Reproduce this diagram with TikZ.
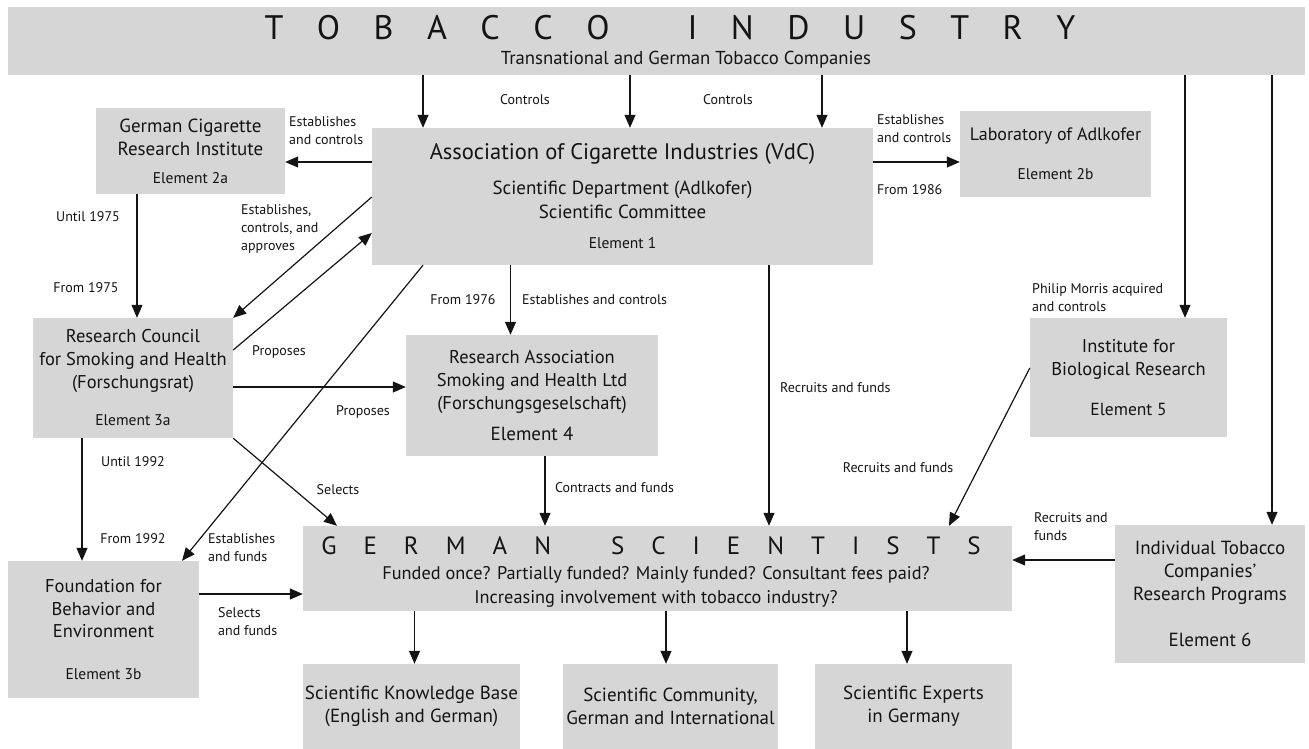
\documentclass[tikz,border=0pt]{standalone}
\usepackage{fontspec}
\setmainfont{PT Sans}
\usetikzlibrary{arrows.meta,calc}
\definecolor{boxgray}{RGB}{214,214,214}
\definecolor{ink}{RGB}{20,20,20}
\newcommand\fz[2]{\fontsize{#1}{#2}\selectfont}
\newcommand\tkA{\hspace{33.5pt}}
\newcommand\tkB{\hspace{27pt}}
\begin{document}
\begin{tikzpicture}[x=1pt,y=-1pt,
  box/.style={fill=boxgray, draw=none, inner sep=0pt, align=center, text=ink},
  lab/.style={inner sep=0pt, font=\fz{14}{18}, text=ink},
  arr/.style={draw=ink, line width=1.2pt, -{Triangle[length=13pt,width=11pt]}},
]
\useasboundingbox (0,0) rectangle (1309,749);

% ---------- boxes ----------
\node[box, minimum width=1297, minimum height=68] (bar) at (656.5,41) {};
\node[inner sep=0pt, anchor=base, font=\fz{34}{40}, text=ink] (title) at (670,40)
  {T\tkA O\tkA B\tkA A\tkA C\tkA C\tkA O\hspace{78pt}I\tkA N\tkA D\tkA U\tkA S\tkA T\tkA R\tkA Y};
\node[inner sep=0pt, anchor=base, font=\fz{18.7}{22}, text=ink] (sub) at (686,65)
  {Transnational and German Tobacco Companies};

\node[box, minimum width=189, minimum height=86, font=\fz{19}{23}] (gcri) at (190.5,151)
  {German Cigarette\\Research Institute\\[5pt]{\fz{15.5}{23}Element 2a}};
\node[box, minimum width=501, minimum height=137, font=\fz{19}{24}] (vdc) at (622.5,196.5)
  {{\fz{22.5}{24}Association of Cigarette Industries (VdC)\hspace{16pt}}\\[11pt]Scientific Department (Adlkofer)\\Scientific Committee\\[6pt]{\fz{15.5}{24}Element 1}};
\node[box, minimum width=191, minimum height=86, font=\fz{18}{23}] (lab) at (1055.5,154)
  {Laboratory of Adlkofer\\[16pt]{\fz{15.5}{23}Element 2b}};
\node[box, minimum width=200, minimum height=120, font=\fz{18.5}{23}] (rc) at (133,378)
  {Research Council\\for Smoking and Health\\(Forschungsrat)\\[14pt]{\fz{15.5}{23}Element 3a}};
\node[box, minimum width=252, minimum height=121, font=\fz{18.5}{23}] (ra) at (532,395.5)
  {Research Association\\Smoking and Health Ltd\\(Forschungsgeselschaft)\\[8pt]{\fz{19}{23}Element 4}};
\node[box, minimum width=197, minimum height=119, font=\fz{18.5}{23}] (ibr) at (1128.5,377.5)
  {Institute for\\Biological Research\\[17pt]{\fz{17.5}{23}Element 5}};
\node[box, minimum width=191, minimum height=137, font=\fz{18.5}{22.5}] (fnd) at (103.5,629.5)
  {Foundation for\\Behavior and\\Environment\\[19pt]{\fz{15.5}{22.5}Element 3b}};
\node[box, minimum width=709, minimum height=85] (gs) at (657.5,568.5) {};
\node[inner sep=0pt, anchor=base, font=\fz{25}{30}, text=ink] (gstitle) at (651,554)
  {G\tkB E\tkB R\tkB M\tkB A\tkB N\hspace{60pt}S\tkB C\tkB I\tkB E\tkB N\tkB T\tkB I\tkB S\tkB T\tkB S};
\node[inner sep=0pt, anchor=base, font=\fz{18.3}{22}, text=ink] (gs1) at (656,579)
  {Funded once? Partially funded? Mainly funded? Consultant fees paid?};
\node[inner sep=0pt, anchor=base, font=\fz{18.3}{22}, text=ink] (gs2) at (656,603)
  {Increasing involvement with tobacco industry?};
\node[box, minimum width=190, minimum height=138, font=\fz{19}{23}] (ind) at (1210,594)
  {Individual Tobacco\\Companies’\\Research Programs\\[23pt]Element 6};
\node[box, minimum width=217, minimum height=85, font=\fz{19}{23}] (kb) at (411.5,706.5)
  {Scientific Knowledge Base\\(English and German)};
\node[box, minimum width=215, minimum height=85, font=\fz{19}{23}] (sc) at (670.5,706.5)
  {Scientific Community,\\German and International};
\node[box, minimum width=197, minimum height=85, font=\fz{19}{23}] (se) at (913.5,706.5)
  {Scientific Experts\\in Germany};

% ---------- connectors ----------
\draw[arr] (bar.south -| 423,0) -- (vdc.north -| 423,0);
\draw[arr] (bar.south -| 630,0) -- (vdc.north -| 630,0);
\draw[arr] (bar.south -| 822,0) -- (vdc.north -| 822,0);
\draw[arr] (bar.south -| 1185,0) -- (ibr.north -| 1185,0);
\draw[arr] (bar.south -| 1272,0) -- (ind.north -| 1272,0);
\draw[arr] (vdc.west |- 0,162) -- (gcri.east |- 0,162);
\draw[arr] (vdc.east |- 0,162) -- (lab.west |- 0,162);
\draw[arr] (gcri.south -| 137,0) -- (rc.north -| 137,0);
\draw[arr] (vdc.west |- 0,197) -- (rc.north east);
\draw[arr] (rc.east |- 0,350) -- (vdc.west |- 0,233);
\draw[arr] (vdc.south -| 510.5,0) -- (ra.north -| 510.5,0);
\draw[arr] (rc.east |- 0,387) -- (ra.west |- 0,387);
\draw[arr] (vdc.south -| 423,0) -- (fnd.north -| 182,0);
\draw[arr] (rc.south east) -- (gs.north -| 337,0);
\draw[arr] (rc.south -| 82,0) -- (fnd.north -| 82,0);
\draw[arr] (fnd.east |- 0,594) -- (gs.west |- 0,594);
\draw[arr] (ra.south -| 545,0) -- (gs.north -| 545,0);
\draw[arr] (vdc.south -| 769,0) -- (gs.north -| 769,0);
\draw[arr] (ibr.west |- 0,368) -- (gs.north -| 949,0);
\draw[arr] (ind.west |- 0,560) -- (gs.east |- 0,560);
\draw[arr] (gs.south -| 414.5,0) -- (kb.north -| 414.5,0);
\draw[arr] (gs.south -| 666,0) -- (sc.north -| 666,0);
\draw[arr] (gs.south -| 907,0) -- (se.north -| 907,0);

% ---------- labels ----------
\node[lab, anchor=base] (l1) at (525,105) {Controls};
\node[lab, anchor=base] (l2) at (728,105) {Controls};
\node[lab, anchor=west, align=left] (l3) at (289,131) {Establishes\\and controls};
\node[lab, anchor=west, align=left] (l4) at (877,129) {Establishes\\and controls};
\node[lab, anchor=base west] (l5) at (877,194) {From 1986};
\node[lab, anchor=base] (l6) at (88,221) {Until 1975};
\node[lab, anchor=base] (l7) at (86,292) {From 1975};
\node[lab, anchor=west, align=left] (l8) at (241,229) {Establishes,\\controls, and\\approves};
\node[lab, anchor=base] (l9) at (279,355) {Proposes};
\node[lab, anchor=base] (l10) at (463,304) {From 1976};
\node[lab, anchor=base west] (l11) at (522,304) {Establishes and controls};
\node[lab, anchor=base] (l12) at (363,415) {Proposes};
\node[lab, anchor=base] (l13) at (133,466) {Until 1992};
\node[lab, anchor=base] (l14) at (133,543) {From 1992};
\node[lab, anchor=base] (l15) at (338,494) {Selects};
\node[lab, anchor=west, align=left] (l16) at (208,548) {Establishes\\and funds};
\node[lab, anchor=west, align=left] (l17) at (218,622) {Selects\\and funds};
\node[lab, anchor=base west] (l18) at (555,492) {Contracts and funds};
\node[lab, anchor=base west] (l19) at (780,392) {Recruits and funds};
\node[lab, anchor=west, align=left] (l20) at (1032,298) {Philip Morris acquired\\and controls};
\node[lab, anchor=base] (l21) at (898,472) {Recruits and funds};
\node[lab, anchor=west, align=left] (l22) at (1034,527) {Recruits and\\funds};
\end{tikzpicture}
\end{document}
